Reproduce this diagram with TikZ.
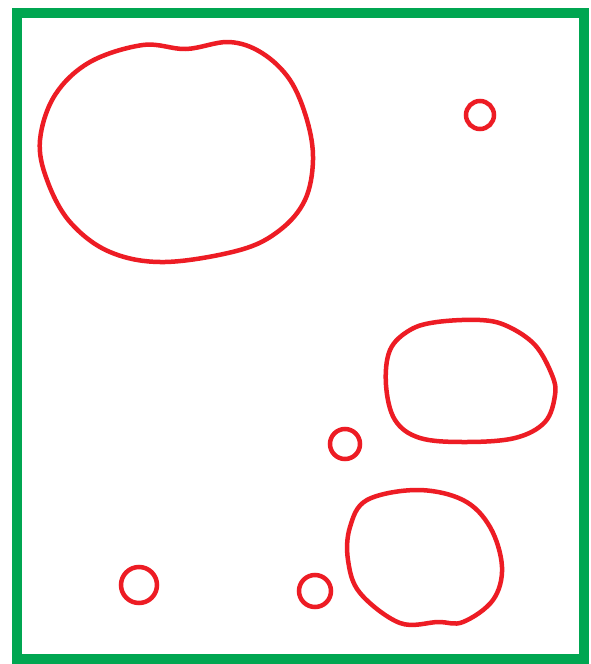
\documentclass[tikz,border=0pt]{standalone}
\usepackage{xcolor}
\usepackage{tikz}
\definecolor{frameGreen}{HTML}{00A651}
\definecolor{blobRed}{HTML}{ED1C24}

\begin{document}
\begin{tikzpicture}[
    x=1pt, y=-1pt,
    frame/.style={draw=frameGreen, line width=10pt},
    blob/.style={draw=blobRed, line width=4.5pt, line join=round},
    bubble/.style={draw=blobRed, line width=4.5pt}
]
    \useasboundingbox (0,0) rectangle (591,664);
    \fill[white] (0,0) rectangle (591,664);

    % outer frame
    \draw[frame] (17,13) rectangle (584,659);

    % large blob, top left
    \draw[blob] plot[smooth cycle, tension=0.6] coordinates {
        (143,45) (186,49) (229,42) (262,53) (290,80) (307,120) (313,160)
        (305,200) (280,230) (240,250) (165,262) (110,252) (70,222)
        (47,180) (40,140) (55,95) (90,62)};

    % blob, middle right
    \draw[blob] plot[smooth cycle, tension=0.6] coordinates {
        (437,322) (480,320) (507,326) (535,345) (552,375) (555,395)
        (545,422) (515,438) (465,442) (420,438) (395,420) (386,385)
        (390,350) (410,330)};

    % blob, bottom right
    \draw[blob] plot[smooth cycle, tension=0.6] coordinates {
        (417,490) (463,500) (490,527) (502,567) (493,600) (463,622)
        (438,622) (400,623) (360,593) (348,560) (350,527) (367,500)};

    % small circles
    \draw[bubble] (480,115) circle (14);
    \draw[bubble] (345,444) circle (15);
    \draw[bubble] (139,585) circle (18);
    \draw[bubble] (315,591) circle (16);
\end{tikzpicture}
\end{document}
